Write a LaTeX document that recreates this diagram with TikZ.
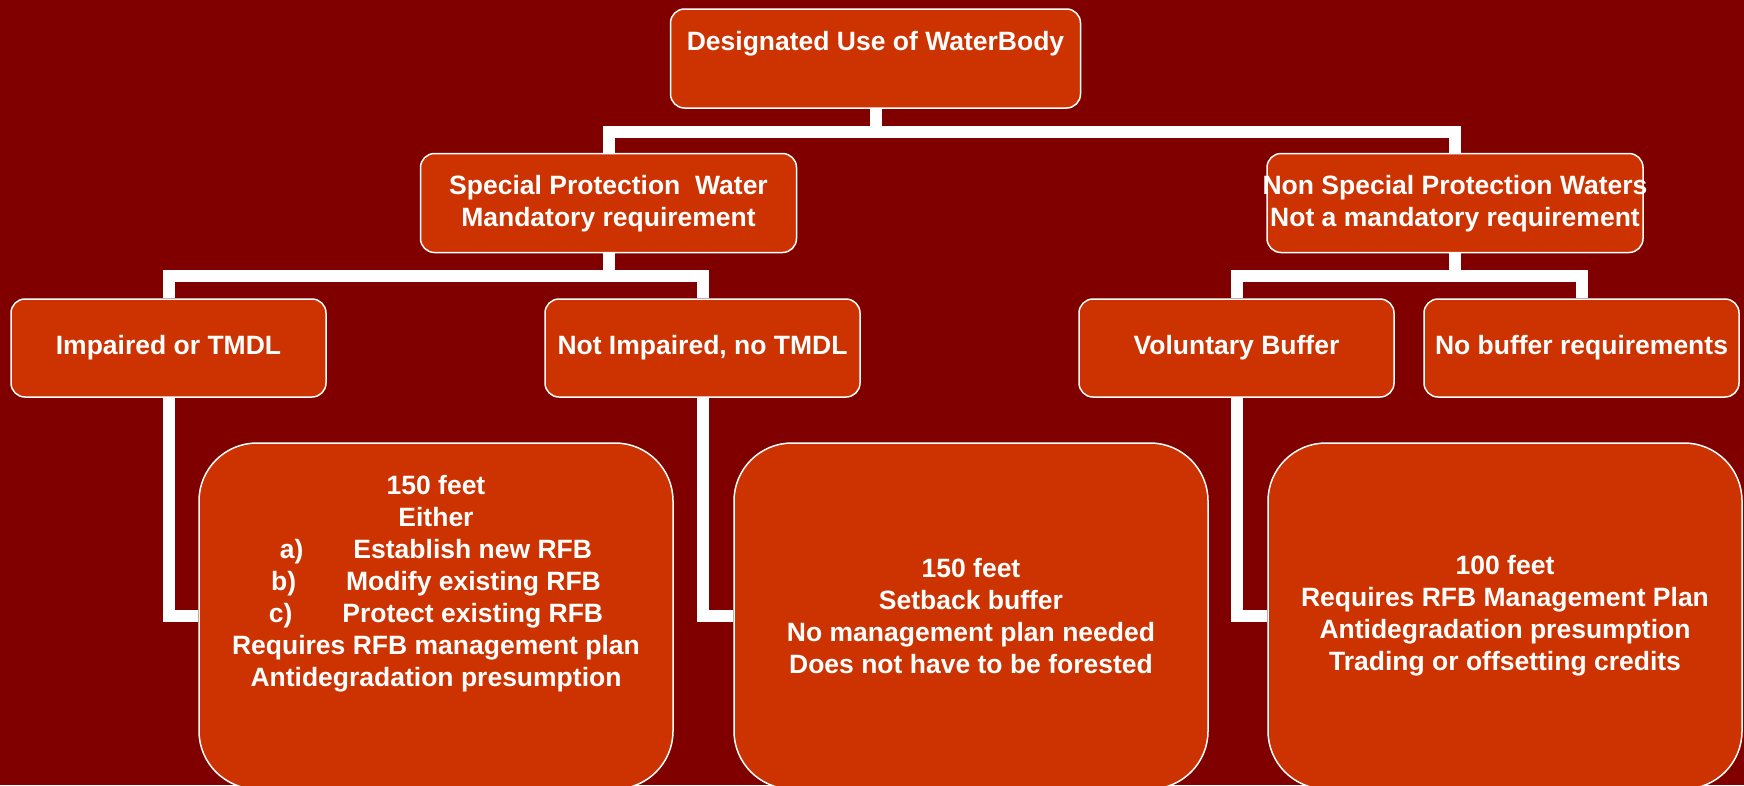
\documentclass[tikz,border=0pt]{standalone}
\usepackage{fontspec}
\setmainfont{Liberation Sans}
\usetikzlibrary{backgrounds}
\definecolor{bgred}{HTML}{800000}
\definecolor{boxred}{HTML}{CC3300}
\tikzset{
  box/.style={draw=white, line width=1.5pt, fill=boxred, rounded corners=14pt, inner sep=0pt},
  bigbox/.style={box, rounded corners=58pt, minimum width=474pt, minimum height=346pt},
  lvlthree/.style={box, minimum width=315pt, minimum height=98pt},
  lvltwo/.style={box, minimum width=376pt, minimum height=99pt},
  txt/.style={text=white, align=center, inner sep=0pt, font=\bfseries\fontsize{26.5}{32}\selectfont},
  conn/.style={draw=white, line width=12pt}
}
\begin{document}
\begin{tikzpicture}[x=1pt,y=-1pt]
\clip (0,0) rectangle (1744,785);
% boxes
\node[box, minimum width=410pt, minimum height=99pt] (top) at (875.5,58.5) {};
\node[txt] (topt) at (875.5,44) {Designated Use of WaterBody};

\node[lvltwo] (spw) at (608.5,203) {};
\node[txt] (spwt) at (608.5,204) {Special Protection\ \ Water\\Mandatory requirement};
\node[lvltwo] (nsp) at (1455,203) {};
\node[txt] (nspt) at (1455,204) {Non Special Protection Waters\\Not a mandatory requirement};

\node[lvlthree] (imp) at (168.5,348) {};
\node[txt] (impt) at (168.5,348) {Impaired or TMDL};
\node[lvlthree] (nimp) at (702.5,348) {};
\node[txt] (nimpt) at (702.5,348) {Not Impaired, no TMDL};
\node[lvlthree] (vol) at (1236.5,348) {};
\node[txt] (volt) at (1236.5,348) {Voluntary Buffer};
\node[lvlthree] (nob) at (1581.5,348) {};
\node[txt] (nobt) at (1581.5,348) {No buffer requirements};

\node[bigbox] (b1) at (436,616) {};
\node[txt] (b1t) at (436,584) {150 feet\\Either\\a)\hspace{50pt}Establish new RFB\\b)\hspace{50pt}Modify existing RFB\\c)\hspace{50pt}Protect existing RFB\\Requires RFB management plan\\Antidegradation presumption};
\node[bigbox] (b2) at (971,616) {};
\node[txt] (b2t) at (971,616) {150 feet\\Setback buffer\\No management plan needed\\Does not have to be forested};
\node[bigbox] (b3) at (1505,616) {};
\node[txt] (b3t) at (1505,616) {100 feet\\Requires RFB Management Plan\\Antidegradation presumption\\Trading or offsetting credits};

\begin{pgfonlayer}{background}
\fill[bgred] (0,0) rectangle (1744,785);
\draw[conn] (top.south) -- ++(0,23) -| (spw.north);
\draw[conn] (top.south) -- ++(0,23) -| (nsp.north);
\draw[conn] (spw.south) -- ++(0,23) -| (imp.north);
\draw[conn] (spw.south) -- ++(0,23) -| (nimp.north);
\draw[conn] (nsp.south) -- ++(0,23) -| (vol.north);
\draw[conn] (nsp.south) -- ++(0,23) -| (nob.north);
\draw[conn] (imp.south) |- (b1.west);
\draw[conn] (nimp.south) |- (b2.west);
\draw[conn] (vol.south) |- (b3.west);
\end{pgfonlayer}
\end{tikzpicture}
\end{document}
